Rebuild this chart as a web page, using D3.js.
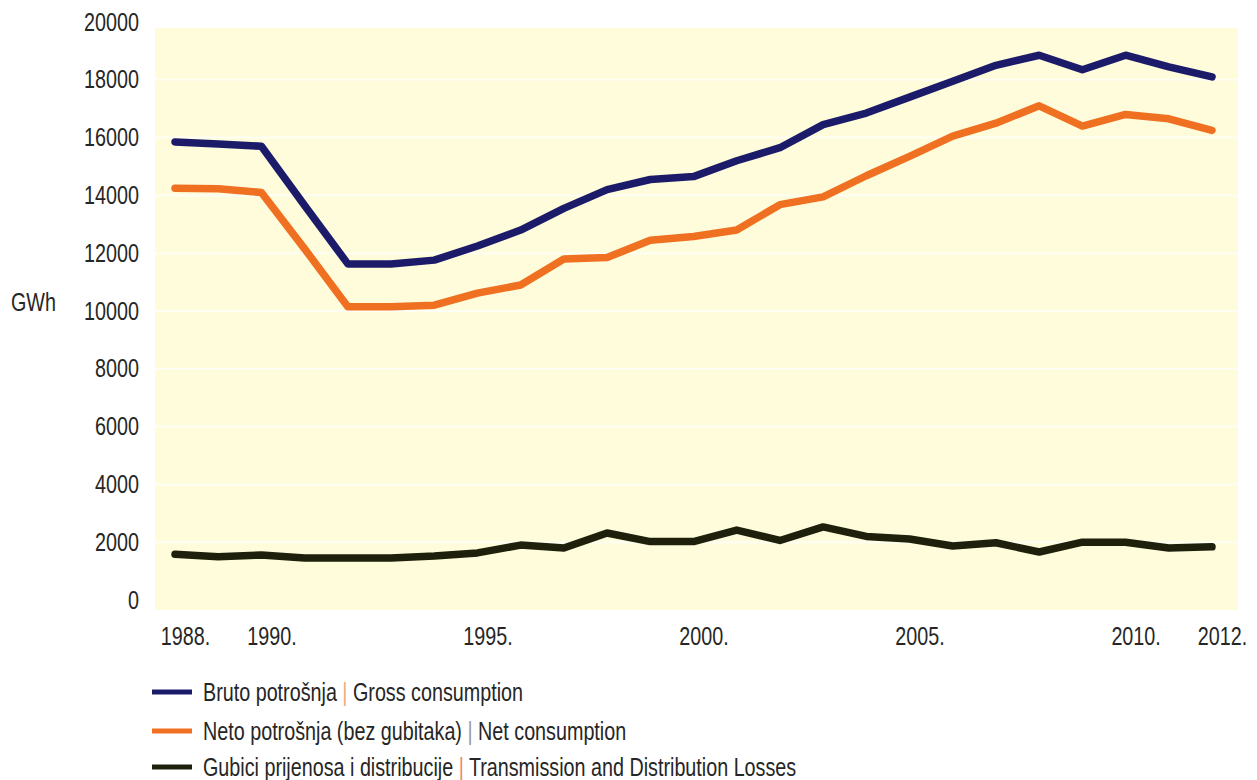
<!DOCTYPE html>
<html>
<head>
<meta charset="utf-8">
<script src="https://cdn.jsdelivr.net/npm/d3@7"></script>
<style>
  html, body { margin: 0; padding: 0; background: #ffffff; }
  svg text { font-family: "Liberation Sans", Arial, sans-serif; fill: #262626; }
</style>
</head>
<body>
<svg id="chart" width="1257" height="780"></svg>
<script>
// Electricity consumption, GWh, 1988–2012
const years = d3.range(1988, 2013);
const gross = [15850, 15780, 15700, 13650, 11630, 11630, 11760, 12250, 12800, 13550, 14200, 14550, 14650, 15200, 15650, 16450, 16850, 17400, 17950, 18500, 18850, 18350, 18850, 18450, 18100];
const net   = [14250, 14230, 14100, 12150, 10150, 10150, 10200, 10620, 10900, 11800, 11850, 12450, 12580, 12800, 13680, 13950, 14680, 15350, 16050, 16500, 17100, 16400, 16800, 16650, 16250];
const losses = [1580, 1500, 1560, 1450, 1450, 1450, 1520, 1630, 1900, 1800, 2320, 2020, 2020, 2420, 2060, 2530, 2200, 2110, 1870, 1980, 1660, 2000, 2000, 1800, 1840];

const yTicks = [0, 2000, 4000, 6000, 8000, 10000, 12000, 14000, 16000, 18000, 20000];
const xTickYears = [1988, 1990, 1995, 2000, 2005, 2010, 2012];

const seriesNames = [
  { hr: "Bruto potrošnja", en: "Gross consumption", color: "#1c1b6a", sep: "#eeaa80" },
  { hr: "Neto potrošnja (bez gubitaka)", en: "Net consumption", color: "#f07022", sep: "#9a9a9a" },
  { hr: "Gubici prijenosa i distribucije", en: "Transmission and Distribution Losses", color: "#1f200c", sep: "#e88a6a" }
];
const seriesValues = [gross, net, losses];

// condensed lettering
const narrow = "scale(0.79,1)";
const fontSize = 25;

const svg = d3.select("#chart");

const x = d3.scaleLinear().domain([1988, 2012]).range([175, 1212]);
const y = d3.scaleLinear().domain([0, 20000]).range([600, 22]);

// plot background
svg.append("rect")
  .attr("x", 155).attr("y", 28)
  .attr("width", 1083).attr("height", 582)
  .attr("fill", "#fefcdb");

// faint white gridlines
svg.append("g")
  .selectAll("line")
  .data(yTicks.filter(d => d > 0 && d < 20000))
  .join("line")
  .attr("x1", 155).attr("x2", 1238)
  .attr("y1", d => y(d)).attr("y2", d => y(d))
  .attr("stroke", "#ffffff").attr("stroke-width", 2).attr("opacity", 0.7);

// y axis labels
const yAxis = d3.axisLeft(y).tickValues(yTicks).tickSize(0).tickPadding(0).tickFormat(d3.format("d"));
const gy = svg.append("g").attr("transform", "translate(139,0)").call(yAxis);
gy.select(".domain").remove();
gy.selectAll("text")
  .attr("font-size", fontSize)
  .attr("font-family", null)
  .attr("fill", "#262626")
  .attr("transform", narrow);

// x axis labels
const xAxis = d3.axisBottom(x).tickValues(xTickYears).tickSize(0).tickPadding(0).tickFormat(d => d + ".");
const gx = svg.append("g").attr("transform", "translate(10,627)").call(xAxis);
gx.select(".domain").remove();
gx.selectAll("text")
  .attr("font-size", fontSize)
  .attr("font-family", null)
  .attr("fill", "#262626")
  .attr("transform", narrow);

// unit label
svg.append("text")
  .attr("transform", "translate(11,302) " + narrow)
  .attr("dy", "0.35em")
  .attr("font-size", fontSize)
  .text("GWh");

// series lines
const line = d3.line()
  .x((d, i) => x(years[i]))
  .y(d => y(d));

svg.append("g")
  .selectAll("path")
  .data(seriesValues)
  .join("path")
  .attr("d", d => line(d))
  .attr("fill", "none")
  .attr("stroke", (d, i) => seriesNames[i].color)
  .attr("stroke-width", 7.5)
  .attr("stroke-linejoin", "round")
  .attr("stroke-linecap", "round");

// legend
const legendRows = [692, 731, 767];
const lg = svg.append("g")
  .selectAll("g")
  .data(seriesNames)
  .join("g")
  .attr("transform", (d, i) => `translate(0,${legendRows[i]})`);

lg.append("line")
  .attr("x1", 152).attr("x2", 192)
  .attr("y1", 0).attr("y2", 0)
  .attr("stroke", d => d.color)
  .attr("stroke-width", 5);

const lt = lg.append("text")
  .attr("transform", "translate(203,0) " + narrow)
  .attr("dy", "0.35em")
  .attr("font-size", fontSize);
lt.append("tspan").text(d => d.hr + " ");
lt.append("tspan").style("fill", d => d.sep).text("|");
lt.append("tspan").text(d => " " + d.en);
</script>
</body>
</html>
